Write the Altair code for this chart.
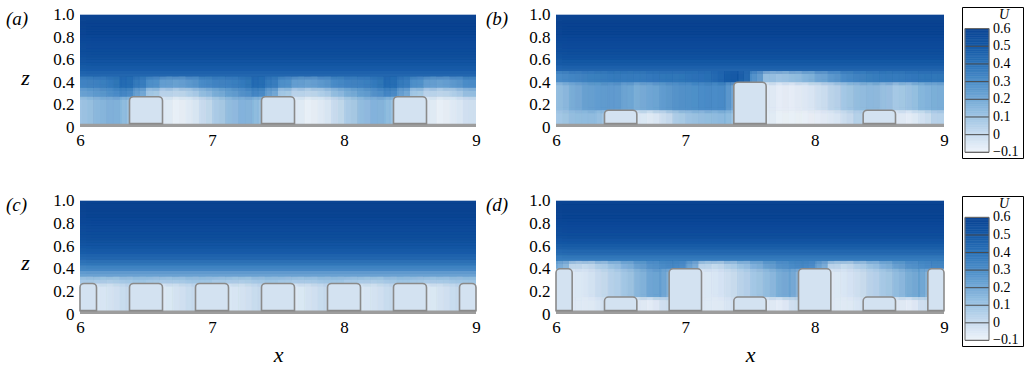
import altair as alt
import pandas as pd

# ---------------- colour map (U) ----------------
cmap_vals = [-0.1, 0.0, 0.1, 0.2, 0.3, 0.4, 0.5, 0.6]
cmap_cols = ["#eef3fa", "#c8dcef", "#9fc5e4", "#73a9d6", "#4b8dc8", "#2c72b8", "#1559a6", "#0b4493"]

# ---------------- grid columns (x lower edges) ----------------
col_x = [round(6.0 + 0.1 * i, 1) for i in range(30)]
col_w = 0.1
bld_w = 0.25

# ---------------- panel (a) ----------------
a_band_z = [0.0, 0.27, 0.35, 0.45]
a_band_u = [
    [0.10, 0.14, 0.17, 0.15, 0.0, 0.0, -0.06, -0.09, -0.07, -0.01,
     0.06, 0.12, 0.16, 0.15, 0.0, 0.0, -0.06, -0.09, -0.07, -0.01,
     0.06, 0.12, 0.16, 0.15, 0.0, 0.0, -0.06, -0.09, -0.07, -0.02],
    [0.22, 0.25, 0.28, 0.33, 0.25, 0.10, 0.04, 0.02, 0.05, 0.12,
     0.18, 0.23, 0.27, 0.33, 0.25, 0.10, 0.04, 0.02, 0.05, 0.12,
     0.18, 0.23, 0.27, 0.33, 0.25, 0.10, 0.04, 0.02, 0.05, 0.12],
    [0.33, 0.34, 0.36, 0.43, 0.38, 0.30, 0.24, 0.22, 0.25, 0.30,
     0.33, 0.34, 0.36, 0.43, 0.38, 0.30, 0.24, 0.22, 0.25, 0.30,
     0.33, 0.34, 0.36, 0.43, 0.38, 0.30, 0.24, 0.22, 0.25, 0.30],
]
a_prof_z = [0.45, 0.50, 0.55, 0.60, 0.65, 0.70, 0.75, 0.80, 0.85, 0.90, 0.95]
a_prof_u = [0.44, 0.48, 0.51, 0.53, 0.55, 0.56, 0.57, 0.58, 0.59, 0.60, 0.60]
a_bld_x = [6.5, 7.5, 8.5]
a_bld_h = [0.27, 0.27, 0.27]

# ---------------- panel (b) ----------------
b_band_z = [0.0, 0.15, 0.40, 0.50]
b_band_u = [
    [0.08, 0.12, 0.13, 0.13, 0.0, 0.0, -0.05, -0.07, -0.02, 0.06,
     0.10, 0.12, 0.13, 0.15, 0.0, 0.0, -0.07, -0.09, -0.09, -0.09,
     -0.08, -0.06, -0.02, 0.05, 0.0, 0.0, -0.06, -0.08, -0.04, 0.04],
    [0.12, 0.18, 0.22, 0.24, 0.25, 0.22, 0.18, 0.20, 0.24, 0.27,
     0.28, 0.30, 0.30, 0.30, 0.0, 0.0, -0.06, -0.08, -0.08, -0.06,
     -0.03, 0.02, 0.08, 0.12, 0.14, 0.12, 0.08, 0.10, 0.15, 0.18],
    [0.30, 0.32, 0.34, 0.35, 0.36, 0.36, 0.36, 0.37, 0.38, 0.38,
     0.39, 0.40, 0.42, 0.48, 0.50, 0.30, 0.12, 0.10, 0.12, 0.15,
     0.20, 0.25, 0.30, 0.33, 0.35, 0.36, 0.36, 0.37, 0.38, 0.38],
]
b_prof_z = [0.50, 0.55, 0.60, 0.65, 0.70, 0.75, 0.80, 0.85, 0.90, 0.95]
b_prof_u = [0.45, 0.49, 0.52, 0.54, 0.56, 0.57, 0.58, 0.59, 0.60, 0.60]
b_bld_x = [6.5, 7.5, 8.5]
b_bld_h = [0.15, 0.40, 0.15]

# ---------------- panel (c) ----------------
c_band_z = [0.0, 0.27, 0.33]
c_band_u = [
    [0.0, -0.05, -0.04, 0.0, 0.0, 0.0, -0.06, -0.04, 0.0, 0.0,
     0.0, -0.05, -0.04, 0.0, 0.0, 0.0, -0.06, -0.04, 0.0, 0.0,
     0.0, -0.05, -0.04, 0.0, 0.0, 0.0, -0.06, -0.04, 0.0, 0.0],
    [0.08, 0.07, 0.06, 0.08, 0.10, 0.09, 0.07, 0.07, 0.09, 0.10,
     0.08, 0.07, 0.06, 0.08, 0.10, 0.09, 0.07, 0.07, 0.09, 0.10,
     0.08, 0.07, 0.06, 0.08, 0.10, 0.09, 0.07, 0.07, 0.09, 0.10],
]
c_prof_z = [0.33, 0.38, 0.43, 0.48, 0.53, 0.58, 0.63, 0.68, 0.73, 0.78, 0.83, 0.88, 0.93, 0.98]
c_prof_u = [0.22, 0.31, 0.38, 0.44, 0.48, 0.51, 0.53, 0.55, 0.56, 0.57, 0.58, 0.59, 0.60, 0.60]
c_bld_x = [6.0, 6.5, 7.0, 7.5, 8.0, 8.5, 9.0]
c_bld_h = [0.27, 0.27, 0.27, 0.27, 0.27, 0.27, 0.27]

# ---------------- panel (d) ----------------
d_band_z = [0.0, 0.15, 0.40, 0.47]
d_band_u = [
    [0.0, -0.06, -0.07, -0.05, 0.0, 0.0, -0.06, -0.08, -0.02, 0.0,
     0.0, -0.06, -0.07, -0.05, 0.0, 0.0, -0.06, -0.08, -0.02, 0.0,
     0.0, -0.06, -0.07, -0.05, 0.0, 0.0, -0.06, -0.08, -0.02, 0.0],
    [0.0, -0.06, -0.05, -0.01, 0.04, 0.08, 0.14, 0.20, 0.24, 0.0,
     0.0, -0.06, -0.05, -0.02, 0.03, 0.08, 0.12, 0.18, 0.22, 0.0,
     0.0, -0.06, -0.05, -0.02, 0.03, 0.07, 0.12, 0.18, 0.23, 0.0],
    [0.20, 0.02, 0.00, 0.05, 0.10, 0.16, 0.22, 0.27, 0.30, 0.32,
     0.25, 0.04, 0.00, 0.05, 0.10, 0.16, 0.22, 0.27, 0.30, 0.32,
     0.25, 0.04, 0.00, 0.05, 0.10, 0.16, 0.22, 0.27, 0.30, 0.32],
]
d_prof_z = [0.47, 0.52, 0.57, 0.62, 0.67, 0.72, 0.77, 0.82, 0.87, 0.92, 0.97]
d_prof_u = [0.36, 0.42, 0.47, 0.51, 0.54, 0.56, 0.57, 0.58, 0.59, 0.60, 0.60]
d_bld_x = [6.0, 6.5, 7.0, 7.5, 8.0, 8.5, 9.0]
d_bld_h = [0.40, 0.15, 0.40, 0.15, 0.40, 0.15, 0.40]

# ---------------- axis ticks / colourbar labels ----------------
x_ticks = [6, 7, 8, 9]
z_ticks = [0, 0.2, 0.4, 0.6, 0.8, 1.0]
cb_vals = [0.6, 0.5, 0.4, 0.3, 0.2, 0.1, 0.0, -0.1]
cb_labels = ["0.6", "0.5", "0.4", "0.3", "0.2", "0.1", "0", "\u22120.1"]

SERIF = "Liberation Serif"
cscale = alt.Scale(domain=cmap_vals, range=cmap_cols, interpolate="rgb", clamp=True)

# rendering-only softening of the cell edges (pixel offsets of the overlaid copies)
SOFT_SHIFTS = [(0, 0), (-6, 0), (6, 0), (0, -3), (0, 3), (-11, 0), (11, 0),
               (-6, -3), (6, 3), (6, -3), (-6, 3)]


def field_df(band_z, band_u, prof_z, prof_u):
    rows = []
    for k in range(len(band_u)):
        for i, x in enumerate(col_x):
            rows.append(dict(x=x, x2=x + col_w, z=band_z[k], z2=band_z[k + 1], u=band_u[k][i]))
    for j, z in enumerate(prof_z):
        z2 = prof_z[j + 1] if j + 1 < len(prof_z) else 1.0
        rows.append(dict(x=6.0, x2=9.0, z=z, z2=z2, u=prof_u[j]))
    return pd.DataFrame(rows)


def panel(tag, band_z, band_u, prof_z, prof_u, bx, bh, width, extra, height, zmax,
          ytitle, ytitle_y, xtitle, title_dx):
    df = field_df(band_z, band_u, prof_z, prof_u)
    df_soft = df[df["z2"] < 0.99]
    xmax = 9.0 + 3.0 * extra / width
    xs = alt.Scale(domain=[6, xmax], nice=False, zero=False)
    ys = alt.Scale(domain=[0, zmax], nice=False, zero=False)
    xaxis = alt.Axis(values=x_ticks, format="d", domain=False, ticks=False, grid=False,
                     labelFont=SERIF, labelFontSize=17, labelColor="black", labelPadding=5,
                     labelFlush=False, labelOverlap=False,
                     title=("x" if xtitle else None), titleFont=SERIF, titleFontSize=22,
                     titleFontStyle="italic", titleFontWeight="normal", titleColor="black",
                     titlePadding=9, titleX=width / 2)
    yaxis_kw = dict(values=z_ticks,
                    labelExpr="datum.value == 0 ? '0' : format(datum.value, '.1f')",
                    domain=False, ticks=False, grid=False,
                    labelFont=SERIF, labelFontSize=17, labelColor="black", labelPadding=6,
                    labelFlush=False, labelOverlap=False)
    if ytitle:
        yaxis = alt.Axis(title="z", titleAngle=0, titleFont=SERIF, titleFontSize=22,
                         titleFontStyle="italic", titleFontWeight="normal", titleColor="black",
                         titleX=-55, titleY=ytitle_y, titleBaseline="middle", **yaxis_kw)
    else:
        yaxis = alt.Axis(title=None, **yaxis_kw)

    layers = []
    for k, (dx, dy) in enumerate(SOFT_SHIFTS):
        first = k == 0
        mk = dict(clip=True, xOffset=dx, yOffset=dy, opacity=1.0 / (k + 1))
        mk.update(strokeWidth=0.6 if first else 0)
        enc = dict(
            x=alt.X("x:Q", scale=xs, axis=xaxis),
            x2="x2:Q",
            y=alt.Y("z:Q", scale=ys, axis=yaxis),
            y2="z2:Q",
            color=alt.Color("u:Q", scale=cscale, legend=None),
        )
        if first:
            enc["stroke"] = alt.Stroke("u:Q", scale=cscale, legend=None)
        layers.append(alt.Chart(df if first else df_soft).mark_rect(**mk).encode(**enc))

    one = pd.DataFrame({"g0": [0.0], "g1": [0.03]})
    # white cover for the spare area right of x = 9
    if extra > 0:
        layers.append(alt.Chart(one).mark_rect(color="white").encode(
            x=alt.value(width), x2=alt.value(width + extra),
            y=alt.value(0), y2=alt.value(height)))
    layers.append(alt.Chart(one).mark_rect(color="#9d9d9d").encode(
        x=alt.value(0), x2=alt.value(width),
        y=alt.Y("g1:Q", scale=ys, axis=yaxis), y2="g0:Q"))

    bdf = pd.DataFrame({"xc": bx, "h": bh})
    bdf["xl"] = (bdf["xc"] - bld_w / 2).clip(lower=6.0)
    bdf["xr"] = (bdf["xc"] + bld_w / 2).clip(upper=9.0)
    bdf["base"] = 0.03
    layers.append(alt.Chart(bdf).mark_rect(
        fill="#d3e2f1", stroke="#8a8a8a", strokeWidth=1.6,
        cornerRadiusTopLeft=4, cornerRadiusTopRight=4).encode(
        x=alt.X("xl:Q", scale=xs, axis=xaxis), x2="xr:Q",
        y=alt.Y("h:Q", scale=ys, axis=yaxis), y2="base:Q"))

    return alt.layer(*layers).properties(
        width=width + extra, height=height,
        title=alt.TitleParams(text=tag, anchor="start", frame="group", orient="top",
                              offset=0, dx=title_dx, dy=23, font=SERIF, fontSize=19,
                              fontStyle="italic", fontWeight="normal", color="black"),
    )


def colorbar(height):
    ramp = pd.DataFrame({"u": [round(-0.1 + 0.01 * i, 2) for i in range(70)]})
    ramp["u2"] = ramp["u"] + 0.01
    ys = alt.Scale(domain=[-0.132, 0.722], nice=False, zero=False)
    lab = pd.DataFrame({"v": cb_vals, "label": cb_labels})
    rect = alt.Chart(ramp).mark_rect(strokeWidth=0.6).encode(
        x=alt.value(3), x2=alt.value(27),
        y=alt.Y("u:Q", scale=ys, axis=None), y2="u2:Q",
        color=alt.Color("u:Q", scale=cscale, legend=None),
        stroke=alt.Stroke("u:Q", scale=cscale, legend=None))
    lines = alt.Chart(lab).mark_rule(color="#4a4a4a", strokeWidth=1).encode(
        x=alt.value(3), x2=alt.value(27), y=alt.Y("v:Q", scale=ys, axis=None))
    border = alt.Chart(pd.DataFrame({"lo": [-0.1], "hi": [0.6]})).mark_rect(
        filled=False, stroke="#6a6a6a", strokeWidth=1).encode(
        x=alt.value(3), x2=alt.value(27), y=alt.Y("lo:Q", scale=ys, axis=None), y2="hi:Q")
    texts = alt.Chart(lab).mark_text(align="left", baseline="middle", font=SERIF,
                                     fontSize=14, color="black").encode(
        x=alt.value(31), y=alt.Y("v:Q", scale=ys, axis=None), text="label:N")
    utitle = alt.Chart(pd.DataFrame({"t": ["U"]})).mark_text(
        align="center", baseline="middle", font=SERIF, fontSize=14, fontStyle="italic",
        color="black").encode(x=alt.value(42), y=alt.value(8), text="t:N")
    return alt.layer(rect, lines, border, texts, utitle).properties(
        width=61, height=height,
        view=alt.ViewBackground(stroke="black", strokeWidth=1))


pa = panel("(a)", a_band_z, a_band_u, a_prof_z, a_prof_u, a_bld_x, a_bld_h,
           396, 62, 120, 1.071, True, 70, False, -74)
pb = panel("(b)", b_band_z, b_band_u, b_prof_z, b_prof_u, b_bld_x, b_bld_h,
           388, 0, 120, 1.071, False, 0, False, -70)
pc = panel("(c)", c_band_z, c_band_u, c_prof_z, c_prof_u, c_bld_x, c_bld_h,
           396, 62, 118, 1.044, True, 66, True, -74)
pd_ = panel("(d)", d_band_z, d_band_u, d_prof_z, d_prof_u, d_bld_x, d_bld_h,
            388, 0, 118, 1.044, False, 0, True, -70)

chart = alt.concat(pa, pb, colorbar(151), pc, pd_, colorbar(150), columns=3,
                   spacing={"row": 38, "column": 18}, bounds="flush").properties(
    padding={"left": 5, "top": 5, "right": 0, "bottom": 0},
    background="white",
).configure_view(stroke="transparent")

chart.save("out.html", embed_options={"renderer": "svg", "actions": False})
